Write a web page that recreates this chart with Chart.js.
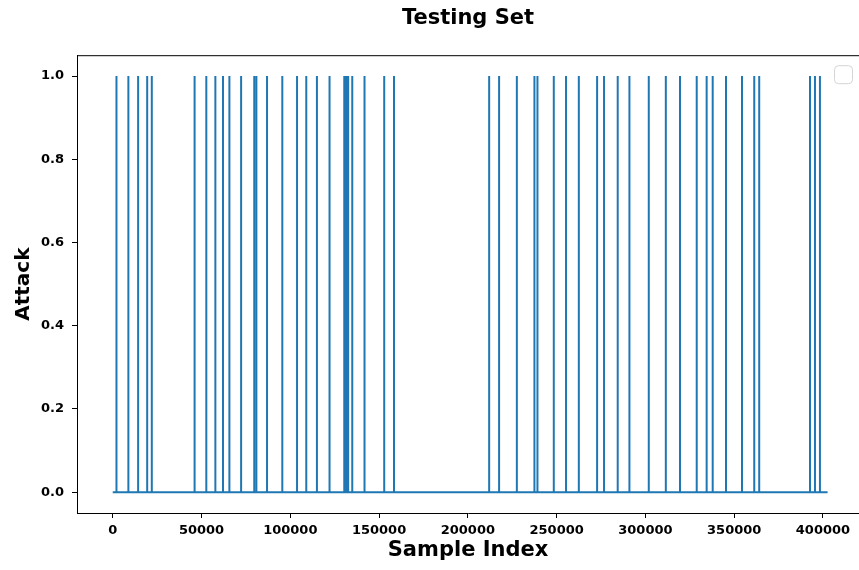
<!DOCTYPE html>
<html>
<head>
<meta charset="utf-8">
<title>Testing Set</title>
<script src="https://cdn.jsdelivr.net/npm/chart.js@4.4.1/dist/chart.umd.min.js"></script>
<style>
  html, body { margin: 0; padding: 0; background: #ffffff; }
  #wrap { width: 859px; height: 570px; position: relative; }
</style>
</head>
<body>
<div id="wrap"><canvas id="attackChart"></canvas></div>
<script>
// sample indices where Attack == 1
const attackIndices = [
  2100, 8800, 14300, 19400, 22000, 46100, 52700, 57800, 62100, 65700,
  72300, 79700, 80900, 86900, 95500, 103800, 109000, 115000, 122100,
  130400, 131500, 132600, 134900, 141800, 152900, 158400,
  212000, 217600, 227600, 237500, 239200, 248400, 255300, 262500,
  272800, 276700, 284400, 291000, 301900, 311500, 319500, 328900,
  334500, 337900, 345400, 354400, 361300, 364100, 392700, 395500, 398300,
];
const sampleCount = 402600;

const xTicks = [0, 50000, 100000, 150000, 200000, 250000, 300000, 350000, 400000];
const yTicks = [0, 0.2, 0.4, 0.6, 0.8, 1.0];

// one point per change of level, every other sample sits at 0
const points = [{ x: 0, y: 0 }];
attackIndices.forEach((idx) => {
  points.push({ x: idx - 1, y: 0 });
  points.push({ x: idx, y: 1 });
  points.push({ x: idx + 1, y: 0 });
});
points.push({ x: sampleCount, y: 0 });

const frameAndLegend = {
  id: "frameAndLegend",
  afterDraw(chart) {
    const { ctx, chartArea } = chart;
    ctx.save();
    ctx.strokeStyle = "#000000";
    ctx.lineWidth = 1;
    ctx.beginPath();
    ctx.moveTo(chartArea.left, chartArea.top + 0.5);
    ctx.lineTo(chartArea.right, chartArea.top + 0.5);
    ctx.stroke();

    // empty matplotlib legend frame
    const w = 18;
    const h = 18;
    const lx = chartArea.right - 25;
    const ly = chartArea.top + 10;
    ctx.strokeStyle = "#d4d4d4";
    ctx.fillStyle = "rgba(255,255,255,0.8)";
    ctx.beginPath();
    ctx.roundRect(lx + 0.5, ly + 0.5, w, h, 4);
    ctx.fill();
    ctx.stroke();
    ctx.restore();
  },
};

const tickFont = { family: "DejaVu Sans", size: 13, weight: "bold" };

new Chart(document.getElementById("attackChart"), {
  type: "line",
  data: {
    datasets: [
      {
        label: "Attack",
        data: points,
        borderColor: "#1f77b4",
        backgroundColor: "#1f77b4",
        borderWidth: 2,
        pointRadius: 0,
        tension: 0,
        fill: false,
      },
    ],
  },
  options: {
    responsive: true,
    maintainAspectRatio: false,
    animation: false,
    layout: { padding: 0 },
    plugins: {
      legend: { display: false },
      tooltip: { enabled: false },
      title: {
        display: true,
        text: "Testing Set",
        fullSize: false,
        color: "#000000",
        font: { family: "DejaVu Sans", size: 21, weight: "bold" },
        padding: { top: 6, bottom: 24 },
      },
    },
    scales: {
      x: {
        type: "linear",
        min: -20130,
        max: 420300,
        afterBuildTicks: (scale) => {
          scale.ticks = xTicks.map((v) => ({ value: v }));
        },
        afterFit: (scale) => {
          scale.height = 57;
        },
        ticks: {
          color: "#000000",
          font: tickFont,
          padding: 5,
          maxRotation: 0,
          callback: (v) => String(v),
        },
        grid: {
          drawOnChartArea: false,
          drawTicks: true,
          tickLength: 5,
          color: "#000000",
        },
        border: { display: true, color: "#000000", width: 1 },
        title: {
          display: true,
          text: "Sample Index",
          color: "#000000",
          font: { family: "DejaVu Sans", size: 21, weight: "bold" },
          padding: { top: 0, bottom: 7 },
        },
      },
      y: {
        min: -0.05,
        max: 1.05,
        afterBuildTicks: (scale) => {
          scale.ticks = yTicks.map((v) => ({ value: v }));
        },
        afterFit: (scale) => {
          scale.width = 77;
        },
        ticks: {
          color: "#000000",
          font: tickFont,
          padding: 8,
          callback: (v) => Number(v).toFixed(1),
        },
        grid: {
          drawOnChartArea: false,
          drawTicks: true,
          tickLength: 5,
          color: "#000000",
        },
        border: { display: true, color: "#000000", width: 1 },
        title: {
          display: true,
          text: "Attack",
          color: "#000000",
          font: { family: "DejaVu Sans", size: 20, weight: "bold" },
          padding: { top: 12, bottom: 0 },
        },
      },
    },
  },
  plugins: [frameAndLegend],
});
</script>
</body>
</html>
